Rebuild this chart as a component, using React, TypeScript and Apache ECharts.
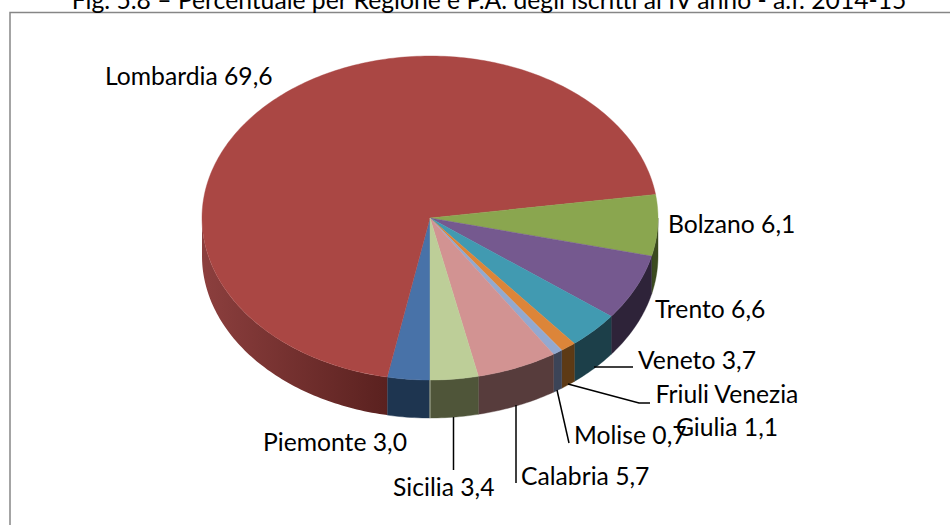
import React, { useEffect, useRef } from "react";
import * as echarts from "echarts";

const regions = ["Piemonte", "Lombardia", "Bolzano", "Trento", "Veneto", "Friuli Venezia\nGiulia", "Molise", "Calabria", "Sicilia"];
const percentages = [3.0, 69.6, 6.1, 6.6, 3.7, 1.1, 0.7, 5.7, 3.4];
const topColors = ["#4872a8", "#aa4744", "#8aa64f", "#75598f", "#419ab1", "#dc8539", "#93a9d0", "#d29392", "#bdce98"];
const sideColors = ["#1e3550", "#5a211f", "#3b4a1f", "#2e2339", "#1c3f49", "#5d3a15", "#3c4457", "#573c3c", "#4f5539"];
const titleText = "Fig. 5.8 – Percentuale per Regione e P.A. degli iscritti al IV anno - a.f. 2014-15";

// label placement: [x, y, align], in pixels
const labelPlaces: [number, number, string][] = [
  [263, 441, "left"], [105, 75, "left"], [668, 223, "left"], [655, 308, "left"], [638, 359, "left"],
  [727, 410, "center"], [574, 434, "left"], [521, 475, "left"], [393, 486, "left"],
];
// leader lines, in pixels
const leaders: ([number, number][] | null)[] = [
  null, null, null, null,
  [[594, 367], [633, 367]],
  [[568, 384], [639, 403], [650, 403]],
  [[557, 390], [569, 443]],
  [[516, 405], [516, 483]],
  [[453.5, 417], [453.5, 470]],
];

const CX = 430, CY = 218, RX = 228, RY = 162, DEPTH = 38;
const FONT = '24.7px Lato, sans-serif';
const total = percentages.reduce((a, b) => a + b, 0);

function pt(deg: number, dy = 0): [number, number] {
  const r = (deg * Math.PI) / 180;
  return [CX + RX * Math.sin(r), CY - RY * Math.cos(r) + dy];
}
function arc(a0: number, a1: number, dy = 0) {
  const out: [number, number][] = [];
  const n = Math.max(2, Math.ceil(Math.abs(a1 - a0)));
  for (let i = 0; i <= n; i++) out.push(pt(a0 + ((a1 - a0) * i) / n, dy));
  return out;
}

function renderSlice(params: any, api: any) {
  const i = params.dataIndex;
  const before = percentages.slice(0, i).reduce((a, b) => a + b, 0);
  const a0 = 180 + (before / total) * 360;
  const a1 = a0 + (api.value(0) / total) * 360;
  const children: any[] = [];

  // visible wall: clockwise angles 90..270 (and 450..630 after wrapping)
  for (const shift of [0, 360]) {
    const s = Math.max(a0, 90 + shift);
    const e = Math.min(a1, 270 + shift);
    if (e > s) {
      const points = [...arc(s, e), ...arc(e, s, DEPTH)];
      const fill: any = i === 1
        ? new echarts.graphic.LinearGradient(202, 0, 388, 0, [
            { offset: 0, color: "#8c3f3e" },
            { offset: 1, color: "#5a211f" },
          ], true)
        : sideColors[i];
      children.push({
        type: "polygon",
        shape: { points },
        style: { fill, stroke: sideColors[i], lineWidth: i === 1 ? 0 : 0.4 },
      });
    }
  }
  children.push({
    type: "polygon",
    shape: { points: [[CX, CY], ...arc(a0, a1)] },
    style: { fill: topColors[i], stroke: topColors[i], lineWidth: 0.4 },
  });
  if (i === percentages.length - 1) {
    children.push({
      type: "line",
      shape: { x1: CX, y1: pt(a1)[1], x2: CX, y2: pt(a1, DEPTH)[1] },
      style: { stroke: "#aeb39e", lineWidth: 1 },
    });
  }
  const lead = leaders[i];
  if (lead) {
    children.push({
      type: "polyline",
      z2: 20,
      shape: { points: lead },
      style: { stroke: "#000000", lineWidth: 1.5, fill: "none" },
    });
  }
  const [lx, ly, align] = labelPlaces[i];
  const value = api.value(0).toFixed(1).replace(".", ",");
  children.push({
    type: "text",
    z2: 30,
    style: {
      text: `${regions[i]} ${value}`,
      x: lx,
      y: ly,
      align,
      verticalAlign: "middle",
      font: FONT,
      lineHeight: 33,
      fill: "#000000",
    },
  });
  return { type: "group", children };
}

export default function App() {
  const ref = useRef<HTMLDivElement>(null);
  useEffect(() => {
    document.body.style.margin = "0";
    const chart = echarts.init(ref.current!, null, { renderer: "svg" });
    chart.setOption({
      animation: false,
      backgroundColor: "#ffffff",
      title: {
        text: titleText,
        left: 489,
        top: -13,
        textAlign: "center",
        padding: 0,
        textStyle: { fontFamily: "Lato, sans-serif", fontSize: 24.7, fontWeight: "normal", color: "#000000" },
      },
      graphic: [
        {
          type: "polyline",
          silent: true,
          shape: { points: [[10, 525], [10, 12.5], [950, 12.5]] },
          style: { stroke: "#868686", lineWidth: 1.5, fill: "none" },
        },
      ],
      series: [
        {
          type: "custom",
          coordinateSystem: "none",
          silent: true,
          renderItem: renderSlice,
          data: percentages.map((v) => [v]),
        },
      ],
    });
    return () => chart.dispose();
  }, []);
  return <div ref={ref} style={{ width: 950, height: 525 }} />;
}
